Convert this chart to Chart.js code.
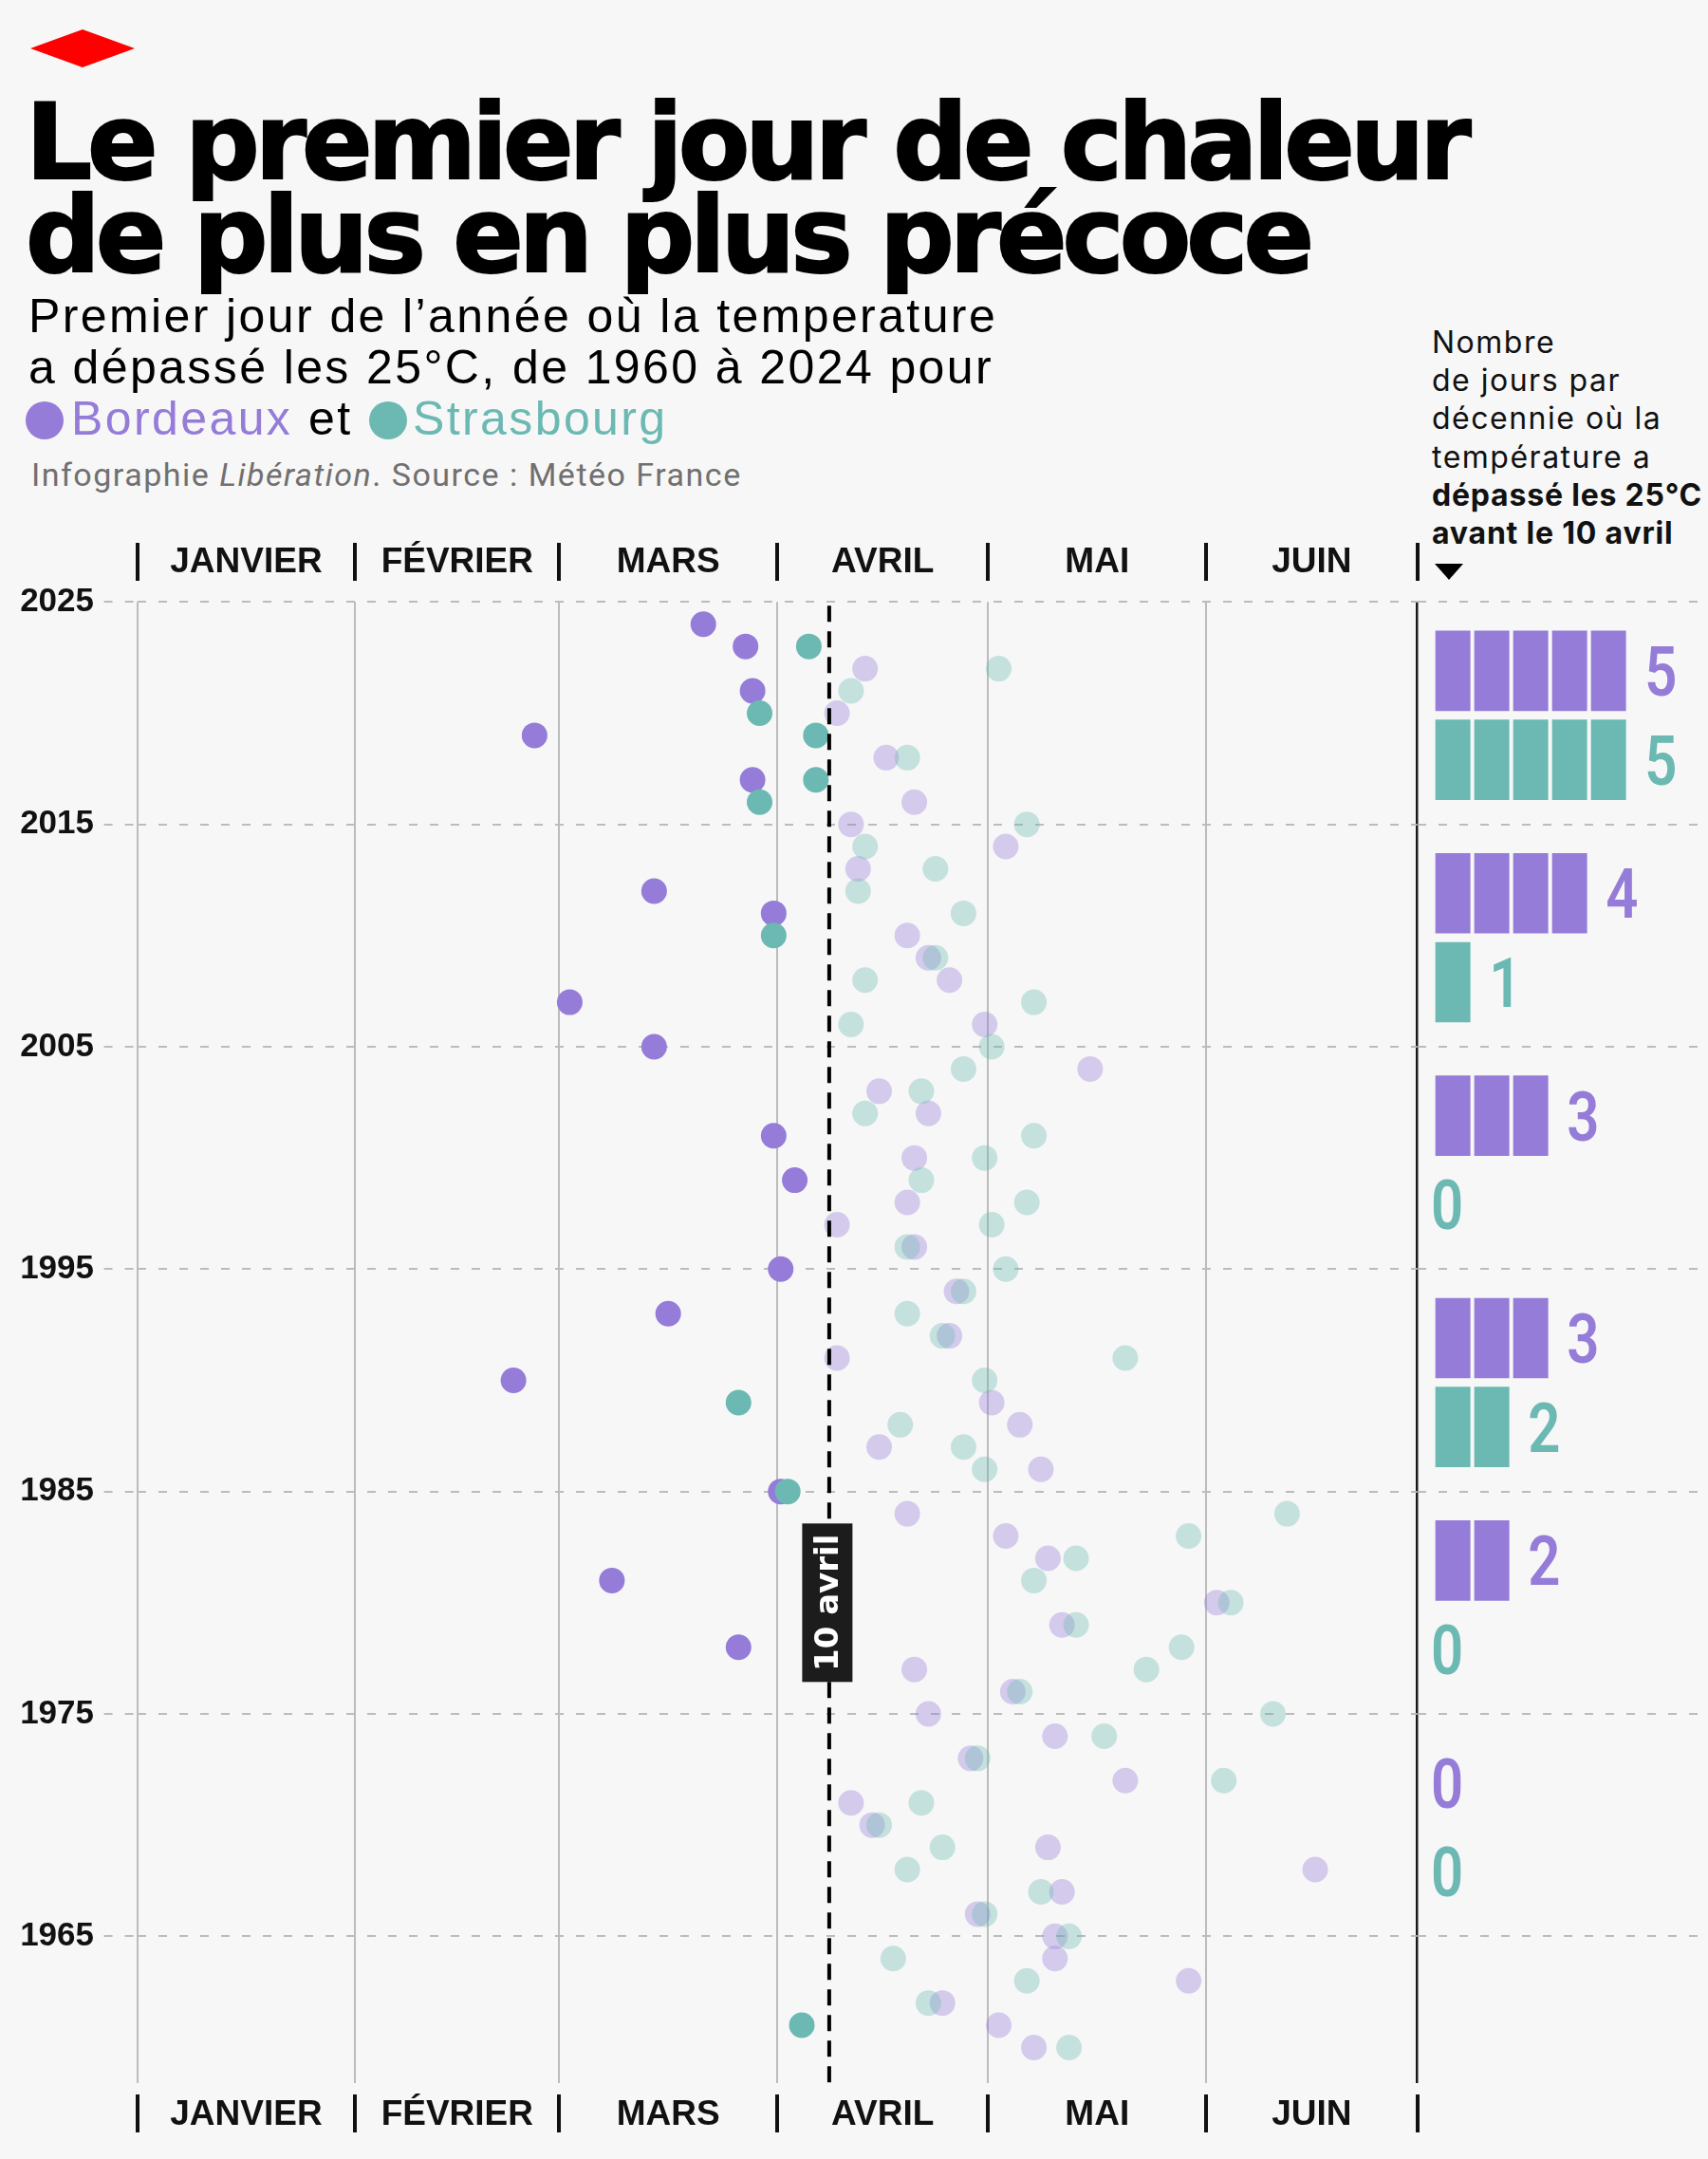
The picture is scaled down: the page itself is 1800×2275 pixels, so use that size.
<!DOCTYPE html>
<html lang="fr">
<head>
<meta charset="utf-8">
<title>Le premier jour de chaleur de plus en plus précoce</title>
<script src="https://cdn.jsdelivr.net/npm/chart.js"></script>
<style>
html,body{margin:0;padding:0;background:#f7f7f7;}
body{width:1800px;height:2275px;position:relative;overflow:hidden;font-family:'Liberation Sans',Arial,sans-serif;}
.abs{position:absolute;white-space:nowrap;}
#logo{left:32px;top:31px;width:110px;height:40px;background:#ff0000;clip-path:polygon(50% 0,100% 50%,50% 100%,0 50%);}
.title{font-family:'DejaVu Sans',sans-serif;font-weight:700;font-size:110px;line-height:110px;letter-spacing:-5px;color:#000;left:27px;-webkit-text-stroke:2px #000;}
.sub{font-family:'Liberation Sans',sans-serif;font-size:50px;line-height:50px;letter-spacing:2.4px;color:#000;}
.dot{width:40px;height:40px;border-radius:50%;}
.src{font-family:'Roboto',sans-serif;font-size:34px;line-height:34px;letter-spacing:1.5px;color:#707070;left:33px;top:483px;}
.side{font-family:'Inter',sans-serif;font-size:32px;line-height:40.2px;letter-spacing:1.5px;color:#111;left:1509px;top:341px;}
.side b{font-weight:700;letter-spacing:0.8px;}
#tri{left:1512px;top:594px;width:0;height:0;border-left:15px solid transparent;border-right:15px solid transparent;border-top:17px solid #000;}
canvas{position:absolute;}
</style>
</head>
<body>
<div id="logo" class="abs"></div>
<div class="abs title" style="top:95px;">Le premier jour de chaleur</div>
<div class="abs title" style="top:193px;">de plus en plus précoce</div>
<div class="abs sub" style="left:30px;top:308px;">Premier jour de l’année où la temperature</div>
<div class="abs sub" style="left:30px;top:362px;">a dépassé les 25°C, de 1960 à 2024 pour</div>
<div class="abs dot" style="left:27px;top:423px;background:#957cd8;"></div>
<div class="abs sub" style="left:75px;top:416px;color:#957cd8;">Bordeaux</div>
<div class="abs sub" style="left:325px;top:416px;">et</div>
<div class="abs dot" style="left:389px;top:423px;background:#6bb9b2;"></div>
<div class="abs sub" style="left:435px;top:416px;color:#6bb9b2;">Strasbourg</div>
<div class="abs src">Infographie <i>Libération</i>. Source : Météo France</div>
<div class="abs side">Nombre<br>de jours par<br>décennie où la<br>température a<br><b>dépassé les 25°C</b><br><b>avant le 10 avril</b></div>
<div id="tri" class="abs"></div>
<canvas id="main" width="1500" height="1715" style="left:0;top:560px;"></canvas>
<canvas id="side" width="306" height="1715" style="left:1494px;top:560px;"></canvas>
<script>
// ---------- DATA ----------
const years = [1960,1961,1962,1963,1964,1965,1966,1967,1968,1969,
  1970,1971,1972,1973,1974,1975,1976,1977,1978,1979,
  1980,1981,1982,1983,1984,1985,1986,1987,1988,1989,
  1990,1991,1992,1993,1994,1995,1996,1997,1998,1999,
  2000,2001,2002,2003,2004,2005,2006,2007,2008,2009,
  2010,2011,2012,2013,2014,2015,2016,2017,2018,2019,
  2020,2021,2022,2023,2024];
// day of year (1 = 1er janvier) of the first day above 25°C
const bordeauxDay = [128,123,115,150,131,131,120,132,168,130,
  105,102,141,119,131,113,125,111,86,132,
  154,68,130,124,110,92,129,106,126,122,
  54,100,116,76,117,92,111,100,110,94,
  111,91,113,106,136,74,121,62,116,113,
  110,91,74,103,124,102,111,88,107,57,
  100,88,104,87,81];
const strasbourgDay = [133,95,113,127,108,133,121,129,110,115,
  106,112,155,120,138,162,126,144,149,134,
  156,128,134,150,164,93,121,118,109,86,
  121,141,115,110,118,124,110,122,127,112,
  121,128,104,112,118,122,102,128,104,114,
  91,118,103,114,104,127,89,97,110,97,
  89,102,123,96,null];
const monthNames = ['JANVIER','FÉVRIER','MARS','AVRIL','MAI','JUIN'];
const monthStarts = [0,31,60,91,121,152,182];
const yearTicks = [1965,1975,1985,1995,2005,2015,2025];
const tenAprilX = 98.4;
const tenAprilLabel = '10 avril';
const decadeStarts = [2015,2005,1995,1985,1975,1965];
const bordeauxDecadeCount = [5,4,3,3,2,0];
const strasbourgDecadeCount = [5,1,0,2,0,0];

// ---------- STYLE ----------
const PURPLE = '#957cd8', TEAL = '#6bb9b2';
const PURPLE_F = 'rgba(149,124,216,0.36)', TEAL_F = 'rgba(107,185,178,0.36)';
const GRID = '#bcbcbc';

function toPoints(days){
  const pts = [];
  days.forEach((d,i)=>{ if(d!=null) pts.push({x:d-0.5, y:years[i]}); });
  return pts;
}
const colorBy = (solid, faded) => (c) => (c.raw && c.raw.x < tenAprilX ? solid : faded);

const monthPlugin = {
  id:'months',
  afterDraw(chart){
    const xs = chart.scales.x, ctx = chart.ctx;
    ctx.save();
    ctx.fillStyle = '#111';
    ctx.font = "bold 37px 'Liberation Sans', Arial, sans-serif";
    ctx.textAlign = 'center';
    ctx.textBaseline = 'alphabetic';
    const rows = [{base:43, s0:12, s1:52},{base:1679, s0:1647, s1:1687}];
    rows.forEach(r=>{
      monthNames.forEach((m,i)=>{
        const cx = (xs.getPixelForValue(monthStarts[i]) + xs.getPixelForValue(monthStarts[i+1]))/2;
        ctx.fillText(m, cx, r.base);
      });
      ctx.strokeStyle = '#111';
      ctx.lineWidth = 4;
      monthStarts.forEach(v=>{
        const x = Math.round(xs.getPixelForValue(v));
        ctx.beginPath(); ctx.moveTo(x, r.s0); ctx.lineTo(x, r.s1); ctx.stroke();
      });
    });
    ctx.restore();
  }
};

const aprilPlugin = {
  id:'april',
  afterDatasetsDraw(chart){
    const xs = chart.scales.x, ys = chart.scales.y, ctx = chart.ctx, a = chart.chartArea;
    const x = xs.getPixelForValue(tenAprilX);
    ctx.save();
    ctx.strokeStyle = '#000';
    ctx.lineWidth = 4;
    ctx.setLineDash([17,10]);
    ctx.beginPath(); ctx.moveTo(x, a.top + 4); ctx.lineTo(x, a.bottom); ctx.stroke();
    ctx.setLineDash([]);
    const cy = ys.getPixelForValue(1980);
    const w = 53, h = 167;
    ctx.fillStyle = '#1c1c1c';
    ctx.fillRect(x - 2 - w/2, cy - h/2, w, h);
    ctx.translate(x - 2, cy);
    ctx.rotate(-Math.PI/2);
    ctx.fillStyle = '#fff';
    ctx.font = "bold 34px 'DejaVu Sans', sans-serif";
    ctx.textAlign = 'center';
    ctx.textBaseline = 'middle';
    ctx.fillText(tenAprilLabel, 0, 2);
    ctx.restore();
  }
};

new Chart(document.getElementById('main'), {
  type:'scatter',
  data:{datasets:[
    {label:'Strasbourg', data:toPoints(strasbourgDay), backgroundColor:colorBy(TEAL, TEAL_F), pointRadius:13.5, pointHoverRadius:13.5, borderWidth:0, order:0},
    {label:'Bordeaux', data:toPoints(bordeauxDay), backgroundColor:colorBy(PURPLE, PURPLE_F), pointRadius:13.5, pointHoverRadius:13.5, borderWidth:0, order:1}
  ]},
  options:{
    responsive:false, animation:false, devicePixelRatio:1,
    layout:{autoPadding:false, padding:{top:74.3, bottom:80, left:0, right:6.5}},
    plugins:{legend:{display:false}, tooltip:{enabled:false}},
    scales:{
      x:{type:'linear', min:0, max:182,
        afterBuildTicks:s=>{ s.ticks = monthStarts.map(v=>({value:v})); },
        afterFit:s=>{ s.height = 0; },
        ticks:{display:false},
        border:{display:false},
        grid:{drawTicks:false,
          color:c=> (c.tick && c.tick.value===182) ? '#1a1a1a' : GRID,
          lineWidth:c=> (c.tick && c.tick.value===182) ? 2.5 : 2}
      },
      y:{type:'linear', min:1958.4, max:2025,
        afterBuildTicks:s=>{ s.ticks = yearTicks.map(v=>({value:v})); },
        afterFit:s=>{ s.width = 144.6; },
        ticks:{autoSkip:false, padding:10.6, color:'#111',
          font:{family:"'Liberation Sans', Arial, sans-serif", weight:'bold', size:35},
          callback:v=>String(v)},
        border:{display:false, dash:[9,13]},
        grid:{color:GRID, lineWidth:2, tickLength:35, tickColor:GRID, tickWidth:2, tickBorderDash:[9,13]}
      }
    }
  },
  plugins:[monthPlugin, aprilPlugin]
});

// ---------- side panel ----------
const segGap = 0.115;
function segments(counts, offset){
  const out = [];
  counts.forEach((c,i)=>{ for(let k=0;k<c;k++) out.push({x:[k, k+1-segGap], y:decadeStarts[i]+offset}); });
  return out;
}
const BORD_OFF = 6.9, STRAS_OFF = 2.9;

const countPlugin = {
  id:'counts',
  afterDatasetsDraw(chart){
    const xs = chart.scales.x, ys = chart.scales.y, ctx = chart.ctx;
    const draw = (counts, off, col) => {
      counts.forEach((c,i)=>{
        const y = ys.getPixelForValue(decadeStarts[i]+off) + 26;
        const x = c>0 ? xs.getPixelForValue(c-segGap) + 20 : xs.getPixelForValue(0) - 5;
        ctx.save();
        ctx.translate(x, y);
        ctx.scale(0.82, 1);
        ctx.font = "600 73px 'Roboto', 'Liberation Sans', sans-serif";
        ctx.textAlign = 'left';
        ctx.textBaseline = 'alphabetic';
        ctx.fillStyle = col;
        ctx.fillText(String(c), 0, 0);
        ctx.restore();
      });
    };
    draw(bordeauxDecadeCount, BORD_OFF, PURPLE);
    draw(strasbourgDecadeCount, STRAS_OFF, TEAL);
  }
};

new Chart(document.getElementById('side'), {
  type:'bar',
  data:{datasets:[
    {label:'Bordeaux', data:segments(bordeauxDecadeCount, BORD_OFF), backgroundColor:PURPLE, barThickness:84, borderWidth:0, stack:'d'},
    {label:'Strasbourg', data:segments(strasbourgDecadeCount, STRAS_OFF), backgroundColor:TEAL, barThickness:84, borderWidth:0, stack:'d'}
  ]},
  options:{
    indexAxis:'y', responsive:false, animation:false, devicePixelRatio:1,
    layout:{autoPadding:false, padding:{top:74.3, bottom:80, left:0, right:0}},
    plugins:{legend:{display:false}, tooltip:{enabled:false}},
    scales:{
      x:{type:'linear', min:-19/41, max:-19/41 + 306/41, display:false, stacked:false},
      y:{type:'linear', min:1958.4, max:2025, offset:false,
        afterBuildTicks:s=>{ s.ticks = yearTicks.map(v=>({value:v})); },
        afterFit:s=>{ s.width = 0; },
        ticks:{display:false},
        border:{display:false, dash:[9,13]},
        grid:{offset:false, drawTicks:false, color:GRID, lineWidth:2}
      }
    }
  },
  plugins:[countPlugin]
});
</script>
</body>
</html>
